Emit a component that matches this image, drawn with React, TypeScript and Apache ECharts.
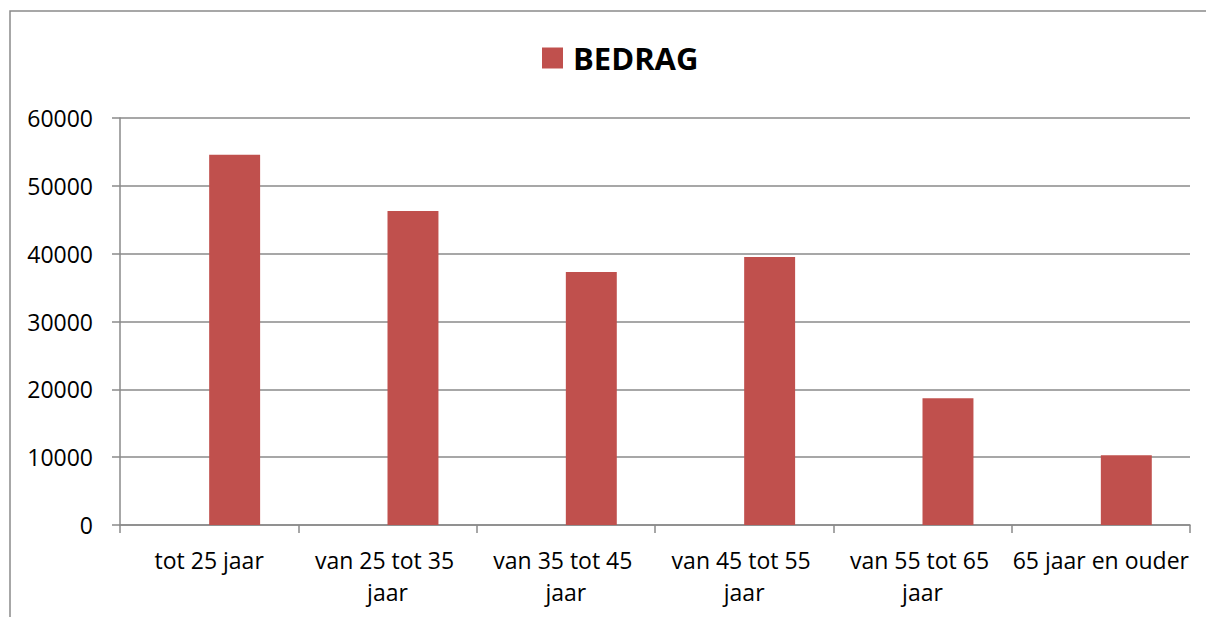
import React, { useEffect, useRef } from "react";
import * as echarts from "echarts";

const categories = [
  "tot 25 jaar",
  "van 25 tot 35 jaar",
  "van 35 tot 45 jaar",
  "van 45 tot 55 jaar",
  "van 55 tot 65 jaar",
  "65 jaar en ouder",
];
const bedrag = [54600, 46300, 37300, 39500, 18700, 10300];
const emptySeries = [null, null, null, null, null, null];

const GRAY = "#8a8a8a";
const FONT = "'Open Sans', sans-serif";

export default function App() {
  const ref = useRef<HTMLDivElement>(null);
  useEffect(() => {
    document.body.style.margin = "0";
    const chart = echarts.init(ref.current!, undefined, { renderer: "svg" });
    chart.setOption({
      animation: false,
      backgroundColor: "#ffffff",
      textStyle: { fontFamily: FONT, color: "#000" },
      graphic: [
        {
          type: "rect",
          shape: { x: 10, y: 11, width: 1220, height: 640 },
          style: { fill: "none", stroke: GRAY, lineWidth: 1.5 },
          silent: true,
          z: -1,
        },
      ],
      legend: {
        data: ["BEDRAG"],
        left: 542,
        top: 42,
        padding: 0,
        icon: "rect",
        itemWidth: 21,
        itemHeight: 21,
        textStyle: {
          fontFamily: FONT,
          fontSize: 31,
          fontWeight: "bold",
          color: "#000",
          lineHeight: 32,
          padding: [0, 0, 0, 5],
        },
      },
      grid: { left: 120, right: 16, top: 118, bottom: 92, containLabel: false },
      xAxis: {
        type: "category",
        data: categories,
        boundaryGap: true,
        axisLine: { show: true, lineStyle: { color: GRAY, width: 1.5 } },
        axisTick: { show: true, length: 8, lineStyle: { color: GRAY, width: 1.5 } },
        axisLabel: {
          interval: 0,
          margin: 19,
          fontFamily: FONT,
          fontSize: 23,
          color: "#000",
          lineHeight: 32,
          width: 178,
          overflow: "break",
        },
      },
      yAxis: {
        type: "value",
        min: 0,
        max: 60000,
        interval: 10000,
        axisLine: { show: true, lineStyle: { color: GRAY, width: 1.5 } },
        axisTick: { show: true, length: 8, lineStyle: { color: GRAY, width: 1.5 } },
        axisLabel: {
          margin: 27,
          fontFamily: FONT,
          fontSize: 23,
          color: "#000",
          formatter: (v: number) => String(v),
        },
        splitLine: { show: true, lineStyle: { color: GRAY, width: 1.5 } },
      },
      series: [
        {
          name: "leeg",
          type: "bar",
          data: emptySeries,
          barGap: "0%",
          barCategoryGap: "42.857%",
          itemStyle: { color: "#4F81BD" },
        },
        {
          name: "BEDRAG",
          type: "bar",
          data: bedrag,
          barGap: "0%",
          barCategoryGap: "42.857%",
          itemStyle: { color: "#C0504D" },
        },
      ],
    });
    return () => chart.dispose();
  }, []);
  return <div ref={ref} style={{ width: 1206, height: 617 }} />;
}
